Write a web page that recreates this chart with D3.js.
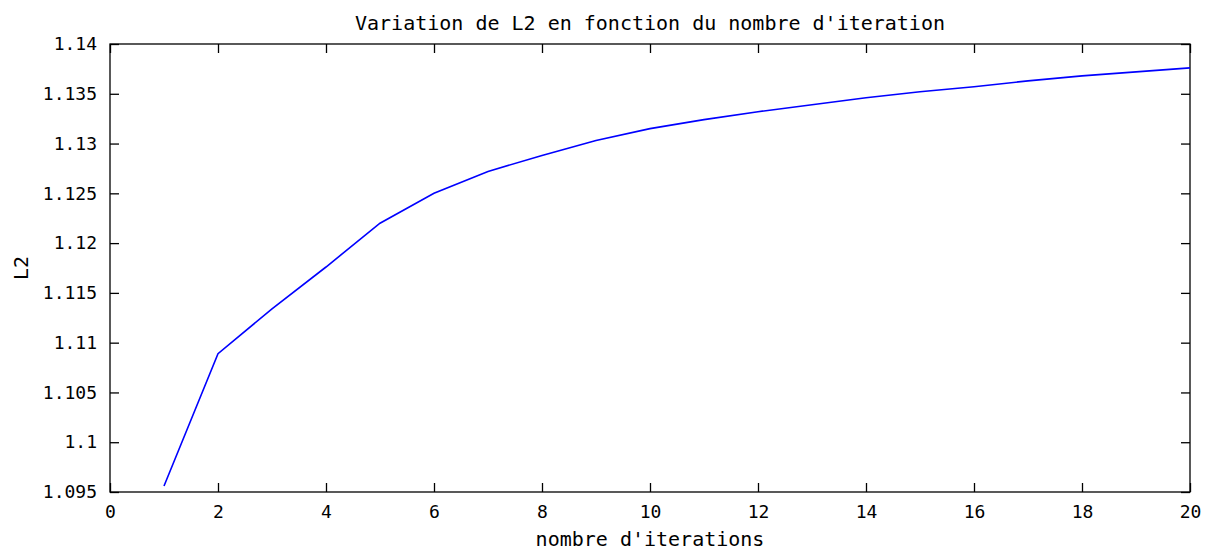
<!DOCTYPE html>
<html>
<head>
<meta charset="utf-8">
<script src="https://cdn.jsdelivr.net/npm/d3@7"></script>
<style>
  html, body { margin: 0; padding: 0; background: #fff; }
  svg { display: block; }
  text { font-family: "DejaVu Sans Mono", "Liberation Mono", monospace; fill: #000; }
</style>
</head>
<body>
<svg id="chart" width="1208" height="552"></svg>
<script>
// Iteration number and the L2 value reached at that iteration
const iterations = [1, 2, 3, 4, 5, 6, 7, 8, 9, 10, 11, 12, 13, 14, 15, 16, 17, 18, 19, 20];
const l2Values = [1.0956, 1.1089, 1.1134, 1.1176, 1.1220, 1.1250, 1.1272, 1.1288, 1.1303, 1.1315,
                  1.1324, 1.1332, 1.1339, 1.1346, 1.1352, 1.1357, 1.1363, 1.1368, 1.1372, 1.1376];

const xTicks = [0, 2, 4, 6, 8, 10, 12, 14, 16, 18, 20];
const yTicks = [1.095, 1.1, 1.105, 1.11, 1.115, 1.12, 1.125, 1.13, 1.135, 1.14];

const titleText = "Variation de L2 en fonction du nombre d'iteration";
const xLabelText = "nombre d'iterations";
const yLabelText = "L2";

const W = 1208, H = 552;
const margin = { top: 44, right: 18, bottom: 60, left: 110 };
const innerW = W - margin.left - margin.right;
const innerH = H - margin.top - margin.bottom;

const svg = d3.select("#chart");
const g = svg.append("g").attr("transform", `translate(${margin.left},${margin.top})`);

const x = d3.scaleLinear().domain([0, 20]).range([0, innerW]);
const y = d3.scaleLinear().domain([1.095, 1.14]).range([innerH, 0]);

const fmt = d => String(+d.toFixed(3));
const tickLen = 9;
const tickFont = 18;
const labelFont = 20;

// Plot frame
g.append("rect")
  .attr("x", 0).attr("y", 0)
  .attr("width", innerW).attr("height", innerH)
  .attr("fill", "none").attr("stroke", "#000").attr("stroke-width", 1.3);

// Inward ticks on all four sides
function styleAxis(sel) {
  sel.select(".domain").remove();
  sel.selectAll(".tick line").attr("stroke", "#000").attr("stroke-width", 1.3);
  sel.selectAll(".tick text").attr("font-size", tickFont)
    .attr("font-family", "'DejaVu Sans Mono', monospace");
}

g.append("g").attr("transform", `translate(0,${innerH})`)
  .call(d3.axisBottom(x).tickValues(xTicks).tickFormat(fmt).tickSizeInner(-tickLen).tickSizeOuter(0).tickPadding(tickLen + 4))
  .call(styleAxis);

g.append("g")
  .call(d3.axisTop(x).tickValues(xTicks).tickFormat("").tickSizeInner(-tickLen).tickSizeOuter(0))
  .call(styleAxis);

g.append("g")
  .call(d3.axisLeft(y).tickValues(yTicks).tickFormat(fmt).tickSizeInner(-tickLen).tickSizeOuter(0).tickPadding(tickLen + 4))
  .call(styleAxis);

g.append("g").attr("transform", `translate(${innerW},0)`)
  .call(d3.axisRight(y).tickValues(yTicks).tickFormat("").tickSizeInner(-tickLen).tickSizeOuter(0))
  .call(styleAxis);

// L2 curve
const series = iterations.map((it, i) => ({ it, v: l2Values[i] }));
g.append("path")
  .datum(series)
  .attr("fill", "none")
  .attr("stroke", "#0000ff")
  .attr("stroke-width", 1.6)
  .attr("d", d3.line().x(d => x(d.it)).y(d => y(d.v)));

// Titles
svg.append("text")
  .attr("x", margin.left + innerW / 2).attr("y", 30)
  .attr("text-anchor", "middle").attr("font-size", labelFont)
  .text(titleText);

svg.append("text")
  .attr("x", margin.left + innerW / 2).attr("y", 546)
  .attr("text-anchor", "middle").attr("font-size", labelFont)
  .text(xLabelText);

svg.append("text")
  .attr("transform", `translate(28,${margin.top + innerH / 2}) rotate(-90)`)
  .attr("text-anchor", "middle").attr("font-size", labelFont)
  .text(yLabelText);
</script>
</body>
</html>
